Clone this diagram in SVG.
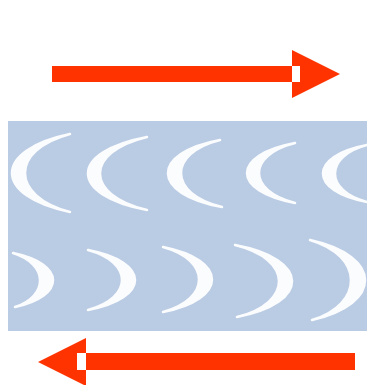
<svg xmlns="http://www.w3.org/2000/svg" width="367" height="385" viewBox="0 0 367 385">
<style>
.arrow{fill:#FF3300}
.gap{fill:#FFFFFF}
.cres{fill:#FBFCFE;stroke:#FBFCFE;stroke-width:2.5;stroke-linejoin:round}
</style>
<rect width="367" height="385" fill="#FFFFFF"/>
<g id="channel">
<rect x="8" y="121" width="359" height="210" fill="#BACBE4"/>
</g>
<g id="top-row">
<path class="cres" d="M70,134 C-7.3,150 -7.3,196 70,212 C10,196 10,150 70,134 Z"/>
<path class="cres" d="M147,137 C68.3,152 68.3,195 147,210 C84.3,195 84.3,152 147,137 Z"/>
<path class="cres" d="M220,140 C150.3,153 150.3,194 222,207 C167.7,194 167.7,153 220,140 Z"/>
<path class="cres" d="M295,143 C231,155 231,191 295,203 C247,191 247,155 295,143 Z"/>
<path class="cres" d="M367,145 C308.3,156 308.3,191 367,202 C324.3,191 324.3,156 367,145 Z"/>
</g>
<g id="bottom-row">
<path class="cres" d="M13,253 C66,264 66,296 15,307 C48.7,296 48.7,264 13,253 Z"/>
<path class="cres" d="M88,250 C150.7,262 150.7,298 88,310 C133.3,298 133.3,262 88,250 Z"/>
<path class="cres" d="M163,247 C228.3,260 228.3,299 163,312 C211,299 211,260 163,247 Z"/>
<path class="cres" d="M235,245 C310.7,259 310.7,303 237,317 C293.3,303 293.3,259 235,245 Z"/>
<path class="cres" d="M310,240 C383,256 383,304 312,320 C364.3,304 364.3,256 310,240 Z"/>
</g>
<g id="connectors">
<g id="arrow-right">
<rect class="arrow" x="52" y="66" width="240" height="16"/>
<polygon class="arrow" points="292,50 340,74 292,98"/>
<rect class="gap" x="292" y="66" width="8" height="16"/>
</g>
<g id="arrow-left">
<rect class="arrow" x="86" y="353" width="269" height="17"/>
<polygon class="arrow" points="86,338 38,362 86,386"/>
<rect class="gap" x="77" y="353" width="9" height="17"/>
</g>
</g>
</svg>
